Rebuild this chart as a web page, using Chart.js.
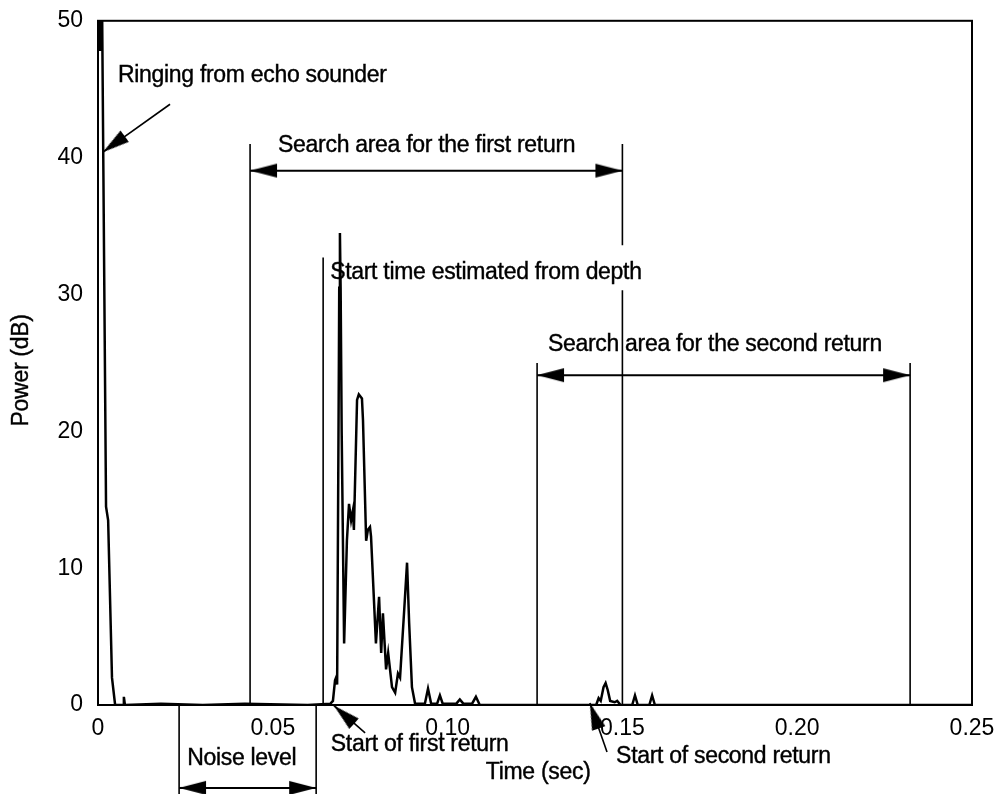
<!DOCTYPE html>
<html>
<head>
<meta charset="utf-8">
<script src="https://cdn.jsdelivr.net/npm/chart.js@4"></script>
<style>
html,body{margin:0;padding:0;background:#fff;}
#wrap{width:1002px;height:794px;}
</style>
</head>
<body>
<div id="wrap"><canvas id="c" width="1002" height="794"></canvas></div>
<script>
// ---- data ----
const times = [0, 0.0003, 0.0006, 0.0009, 0.0012, 0.0023, 0.0029, 0.0040, 0.0049, 0.0072,
  0.0074, 0.0077, 0.0180, 0.0300, 0.0420, 0.0600, 0.0665, 0.0672, 0.0678, 0.0681,
  0.0684, 0.0689, 0.0690, 0.0692, 0.0694, 0.0697, 0.0704, 0.0712, 0.0718, 0.0724,
  0.0729, 0.0732, 0.0741, 0.0746, 0.0755, 0.0758, 0.0767, 0.0772, 0.0778, 0.0781,
  0.0795, 0.0804, 0.0810, 0.0815, 0.0824, 0.0830, 0.0841, 0.0850, 0.0858, 0.0864,
  0.0876, 0.0884, 0.0890, 0.0898, 0.0907, 0.0935, 0.0944, 0.0953, 0.0970, 0.0978,
  0.0986, 0.1025, 0.1035, 0.1045, 0.1070, 0.1081, 0.1092, 0.1250, 0.1425, 0.1432,
  0.1438, 0.1446, 0.1452, 0.1458, 0.1465, 0.1478, 0.1485, 0.1495, 0.1528, 0.1536,
  0.1544, 0.1577, 0.1585, 0.1593, 0.2500];
const powers = [50, 47.8, 50, 47.8, 50, 14.5, 13.5, 2, 0, 0,
  0.6, 0, 0.1, 0, 0.1, 0, 0.1, 0.3, 1.8, 2.0,
  1.5, 25, 30.5, 34.5, 30.5, 20, 4.5, 12, 14.7, 13.5,
  14.2, 12.8, 22.3, 22.7, 22.4, 20.8, 12.0, 12.8, 13.0, 12.3,
  4.5, 7.9, 3.8, 6.7, 2.6, 3.8, 1.3, 0.9, 2.3, 2.0,
  7.0, 10.4, 6.0, 1.3, 0.1, 0.1, 1.2, 0.1, 0.1, 0.7,
  0.1, 0.1, 0.4, 0.1, 0.1, 0.6, 0, 0, 0, 0.5,
  0.3, 1.3, 1.6, 1.1, 0.3, 0.2, 0.3, 0, 0, 0.7,
  0, 0, 0.7, 0, 0];

const yTicks = [0, 10, 20, 30, 40, 50];
const xTicks = [0, 0.05, 0.10, 0.15, 0.20, 0.25];

// vertical marker lines (time, top value)
const markerTimes = [0.0435, 0.0644, 0.1256, 0.2323];
const markerTops  = [41, 32.7, 25, 25];
const firstEndTime = 0.15;           // right edge of first search area (line broken by text)
const noiseTimes = [0.0232, 0.0624]; // noise window limits (below the axis)

// double arrows: [from, to, level]
const firstSearch  = [0.0435, 0.15, 39.05];
const secondSearch = [0.1256, 0.2323, 24.1];
const noiseArrow   = [0.0232, 0.0624, -6.06];

// pointer arrows: tail -> tip
const ringArrow   = [[0.0206, 43.9], [0.0014, 40.4]];
const firstArrow  = [[0.0764, -2.04], [0.0675, -0.05]];
const secondArrow = [[0.1456, -3.43], [0.1407, 0.15]];

const labels = ["Ringing from echo sounder", "Search area for the first return",
  "Start time estimated from depth", "Search area for the second return",
  "Start of first return", "Start of second return", "Noise level"];
const labelPos = [[0.0057, 46.0], [0.0515, 40.9], [0.0664, 31.6], [0.1287, 26.3],
  [0.0666, -2.92], [0.1482, -3.8], [0.0255, -3.94]];

// ---- drawing ----
const FONT = '"Liberation Sans", Arial, sans-serif';
const arrowImg = (() => {
  const c = document.createElement('canvas');
  c.width = 56; c.height = 16;
  const g = c.getContext('2d');
  g.fillStyle = '#000';
  g.beginPath(); g.moveTo(28, 8); g.lineTo(1, 1); g.lineTo(1, 15); g.closePath(); g.fill();
  return c;
})();

function lineDs(pts, extra) {
  return Object.assign({
    data: pts, showLine: true, borderColor: '#000', borderWidth: 1.6,
    pointRadius: 0, clip: false, tension: 0, spanGaps: false
  }, extra || {});
}
const datasets = [];
datasets.push({
  data: times.map((t, i) => ({x: t, y: powers[i]})),
  showLine: true, borderColor: '#000', borderWidth: 2.5, pointRadius: 0, tension: 0
});
markerTimes.forEach((t, i) => datasets.push(lineDs([{x: t, y: 0}, {x: t, y: markerTops[i]}])));
datasets.push(lineDs([{x: firstEndTime, y: 41}, {x: firstEndTime, y: 33.6}, {x: firstEndTime, y: null}, {x: firstEndTime, y: 30.3}, {x: firstEndTime, y: 0}]));
noiseTimes.forEach(t => datasets.push(lineDs([{x: t, y: 0}, {x: t, y: -6.7}])));
[firstSearch, secondSearch, noiseArrow].forEach(a => datasets.push(lineDs(
  [{x: a[0], y: a[2]}, {x: a[1], y: a[2]}],
  {borderWidth: 2, pointStyle: arrowImg, pointRadius: 150, pointRotation: [180, 0]})));
const rotations = [143.8, 222, 251];
[ringArrow, firstArrow, secondArrow].forEach((a, i) => datasets.push(lineDs(
  [{x: a[0][0], y: a[0][1]}, {x: a[1][0], y: a[1][1]}],
  {pointStyle: arrowImg, pointRadius: [0, 150], pointRotation: rotations[i]})));

const annot = {
  id: 'annot',
  beforeDatasetsDraw(chart) {
    const {ctx, chartArea: a} = chart;
    ctx.save();
    ctx.strokeStyle = '#000'; ctx.lineWidth = 2;
    ctx.strokeRect(a.left, a.top, a.right - a.left, a.bottom - a.top);
    ctx.restore();
  },
  afterDraw(chart) {
    const {ctx} = chart;
    const xs = chart.scales.x, ys = chart.scales.y;
    ctx.save();
    ctx.fillStyle = '#000';
    ctx.strokeStyle = '#000';
    ctx.lineWidth = 0.4;
    ctx.font = '23px ' + FONT;
    ctx.letterSpacing = '-0.3px';
    ctx.textBaseline = 'middle';
    ctx.textAlign = 'left';
    const put = (s, x, y) => { ctx.fillText(s, x, y); ctx.strokeText(s, x, y); };
    labels.forEach((s, i) => put(s, xs.getPixelForValue(labelPos[i][0]), ys.getPixelForValue(labelPos[i][1])));
    ctx.textAlign = 'center';
    put('Time (sec)', xs.getPixelForValue(0.1259), ys.getPixelForValue(-4.96));
    ctx.translate(22, ys.getPixelForValue(24.45));
    ctx.rotate(-Math.PI / 2);
    put('Power (dB)', 0, 0);
    ctx.restore();
  }
};

new Chart(document.getElementById('c'), {
  type: 'scatter',
  data: {datasets},
  options: {
    responsive: false, animation: false, events: [],
    layout: {autoPadding: false, padding: {left: 0, top: 20, right: 30, bottom: 0}},
    plugins: {legend: {display: false}, tooltip: {enabled: false}},
    scales: {
      x: {
        type: 'linear', min: 0, max: 0.25,
        afterFit(s) { s.height = 89; },
        afterBuildTicks(s) { s.ticks = xTicks.map(v => ({value: v})); },
        grid: {display: false},
        border: {display: false},
        ticks: {color: '#000', padding: 2, font: {family: FONT, size: 23},
          maxRotation: 0, autoSkip: false,
          callback: v => v === 0 ? '0' : v.toFixed(2)}
      },
      y: {
        type: 'linear', min: 0, max: 50,
        afterFit(s) { s.width = 98; },
        afterBuildTicks(s) { s.ticks = yTicks.map(v => ({value: v})); },
        grid: {display: false},
        border: {display: false},
        ticks: {color: '#000', padding: 7, font: {family: FONT, size: 23}}
      }
    }
  },
  plugins: [annot]
});
</script>
</body>
</html>
